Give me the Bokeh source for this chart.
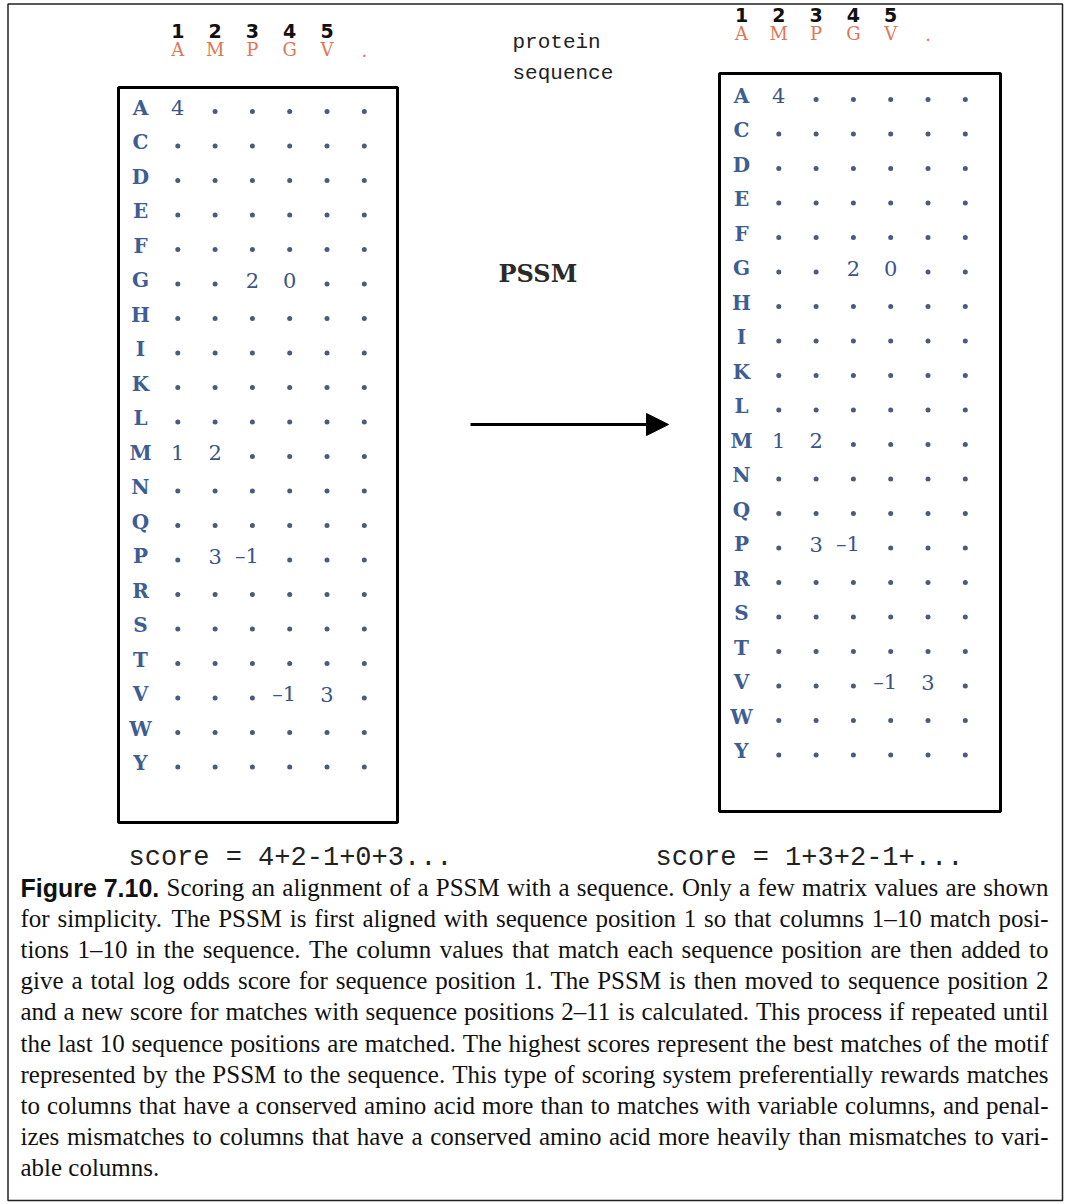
from bokeh.plotting import figure
from bokeh.models import Range1d, Arrow, NormalHead
from bokeh.core.properties import value
from bokeh.embed import file_html
from bokeh.resources import INLINE

# ---------------- data ----------------
amino_acids = ["A", "C", "D", "E", "F", "G", "H", "I", "K", "L",
               "M", "N", "Q", "P", "R", "S", "T", "V", "W", "Y"]
n_matrix_cols = 6
shown_rows = ["A", "G", "G", "M", "M", "P", "P", "V", "V"]
shown_cols = [1, 3, 4, 1, 2, 2, 3, 4, 5]
shown_vals = [4, 2, 0, 1, 2, 3, -1, -1, 3]
sequence = ["A", "M", "P", "G", "V", "."]
seq_numbers = ["1", "2", "3", "4", "5"]
score_left_terms = [4, 2, -1, 0, 3]
score_right_terms = [1, 3, 2, -1]
label_protein = ["protein", "sequence"]
label_matrix = "PSSM"
caption_head = "Figure 7.10."
caption_lines = [
    "Scoring an alignment of a PSSM with a sequence. Only a few matrix values are shown",
    "for simplicity. The PSSM is first aligned with sequence position 1 so that columns 1\u201310 match posi-",
    "tions 1\u201310 in the sequence. The column values that match each sequence position are then added to",
    "give a total log odds score for sequence position 1. The PSSM is then moved to sequence position 2",
    "and a new score for matches with sequence positions 2\u201311 is calculated. This process if repeated until",
    "the last 10 sequence positions are matched. The highest scores represent the best matches of the motif",
    "represented by the PSSM to the sequence. This type of scoring system preferentially rewards matches",
    "to columns that have a conserved amino acid more than to matches with variable columns, and penal-",
    "izes mismatches to columns that have a conserved amino acid more heavily than mismatches to vari-",
    "able columns.",
]

# ---------------- styles ----------------
W, H = 1068, 1204
ROW_COLOR = "#3d5d93"
VAL_COLOR = "#3a5585"
DOT_COLOR = "#4b5b7b"
SEQ_COLOR = "#e07656"
MONO = value("Liberation Mono")
SLAB = value("DejaVu Serif")

p = figure(width=W, height=H, output_backend="svg", toolbar_location=None,
           x_range=Range1d(0, W), y_range=Range1d(H, 0), min_border=0)
p.axis.visible = False
p.grid.visible = False
p.outline_line_color = None
p.background_fill_color = "white"
p.border_fill_color = "white"

# outer frame
p.quad(left=[7.5], right=[1062], top=[3.5], bottom=[1200],
       fill_color=None, line_color="#222222", line_width=1.5)


def fmt_score(terms, tail):
    s = str(terms[0])
    for t in terms[1:]:
        s += ("+" if t >= 0 else "-") + str(abs(t))
    return "score = " + s + tail


def panel(label_x, row_y0, shift, box, num_y, seq_y, score_text, score_x, score_y):
    dx, dy = 37.3, 34.5
    ys = [row_y0 + i * dy for i in range(len(amino_acids))]
    p.quad(left=[box[0]], right=[box[1]], top=[box[2]], bottom=[box[3]],
           fill_color=None, line_color="black", line_width=3)
    p.text(x=[label_x] * len(amino_acids), y=ys, text=amino_acids,
           text_font=SLAB, text_font_style="bold", text_font_size="20px",
           text_color=ROW_COLOR, text_align="center", text_baseline="middle")
    shown = {(r, c): v for r, c, v in zip(shown_rows, shown_cols, shown_vals)}
    dx_l, dy_l, px, py, pt, nx, ny, nt = [], [], [], [], [], [], [], []
    for i, aa in enumerate(amino_acids):
        for c in range(1, n_matrix_cols + 1):
            x = label_x + c * dx
            if (aa, c) in shown:
                v = shown[(aa, c)]
                if v < 0:
                    nx.append(x + 6.5); ny.append(ys[i]); nt.append("\u2013" + str(abs(v)))
                else:
                    px.append(x); py.append(ys[i]); pt.append(str(v))
            else:
                dx_l.append(x); dy_l.append(ys[i] + 4)
    p.scatter(x=dx_l, y=dy_l, size=5, color=DOT_COLOR, line_color=None)
    p.text(x=px, y=py, text=pt, text_font=SLAB, text_font_size="21px",
           text_color=VAL_COLOR, text_align="center", text_baseline="middle")
    p.text(x=nx, y=ny, text=nt, text_font=SLAB, text_font_size="21px",
           text_color=VAL_COLOR, text_align="right", text_baseline="middle")
    nxs = [label_x + (k + 1 - shift) * dx for k in range(len(seq_numbers))]
    p.text(x=nxs, y=[num_y] * len(nxs), text=seq_numbers, text_font=value("DejaVu Sans"),
           text_font_style="bold", text_font_size="19px", text_color="#111111",
           text_align="center", text_baseline="middle")
    sxs = [label_x + (k + 1 - shift) * dx for k in range(len(sequence))]
    p.text(x=sxs, y=[seq_y] * len(sxs), text=sequence, text_font=SLAB,
           text_font_size="18px", text_color=SEQ_COLOR,
           text_align="center", text_baseline="middle")
    p.text(x=[score_x], y=[score_y], text=[score_text], text_font=MONO,
           text_font_size="27px", text_color="#222222",
           text_align="left", text_baseline="middle")


panel(140, 107, 0, (118, 397, 87, 822), 30, 49,
      fmt_score(score_left_terms, "..."), 128, 857)
panel(741, 95, 1, (719, 1000, 73, 811), 14, 33,
      fmt_score(score_right_terms, "+..."), 655, 857)

# labels in the middle
p.text(x=[512, 512], y=[42, 73], text=label_protein, text_font=MONO,
       text_font_size="21px", text_color="#222222",
       text_align="left", text_baseline="middle")
p.text(x=[498], y=[273], text=[label_matrix], text_font=SLAB, text_font_style="bold",
       text_font_size="24px", text_color="#2a2a2a",
       text_align="left", text_baseline="middle")

# arrow
p.add_layout(Arrow(end=NormalHead(size=22, fill_color="black", line_color="black"),
                   x_start=470, y_start=424, x_end=668, y_end=424,
                   line_width=3, line_color="black"))

# ---------------- caption (justified) ----------------
TIMES = {' ': 250, '!': 333, ',': 250, '-': 333, '.': 250, ':': 278, ';': 278,
         '\u2013': 500, '0': 500, '1': 500, '2': 500, '3': 500, '4': 500, '5': 500,
         '6': 500, '7': 500, '8': 500, '9': 500,
         'A': 722, 'B': 667, 'C': 667, 'D': 722, 'E': 611, 'F': 556, 'G': 722, 'H': 722,
         'I': 333, 'J': 389, 'K': 722, 'L': 611, 'M': 889, 'N': 722, 'O': 722, 'P': 556,
         'Q': 722, 'R': 667, 'S': 556, 'T': 611, 'U': 722, 'V': 722, 'W': 944, 'X': 722,
         'Y': 722, 'Z': 611,
         'a': 444, 'b': 500, 'c': 444, 'd': 500, 'e': 444, 'f': 333, 'g': 500, 'h': 500,
         'i': 278, 'j': 278, 'k': 500, 'l': 278, 'm': 778, 'n': 500, 'o': 500, 'p': 500,
         'q': 500, 'r': 333, 's': 389, 't': 278, 'u': 500, 'v': 500, 'w': 722, 'x': 500,
         'y': 500, 'z': 444}
ARIAL_B = {'F': 611, 'i': 278, 'g': 611, 'u': 611, 'r': 389, 'e': 556, ' ': 278,
           '7': 556, '.': 278, '1': 556, '0': 556}


def w_em(s, table):
    return sum(table.get(ch, 500) for ch in s) / 1000.0


CAP_L, CAP_R = 20, 1048
CAP_Y0, CAP_DY = 887, 31.1
span = CAP_R - CAP_L
fs_list = []
for k, line in enumerate(caption_lines[:-1]):
    if k == 0:
        em = w_em(caption_head, ARIAL_B) + w_em(" " + line, TIMES)
    else:
        em = w_em(line, TIMES)
    fs_list.append(span / em)
fs = min(fs_list) * 0.99

wx, wy, wt = [], [], []
for k in range(len(caption_lines)):
    words = caption_lines[k].split(" ")
    y = CAP_Y0 + k * CAP_DY
    x = CAP_L
    words_w = [w_em(w, TIMES) * fs for w in words]
    last = k == len(caption_lines) - 1
    if k == 0:
        hw = w_em(caption_head, ARIAL_B) * fs
        gap = (span - hw - sum(words_w)) / len(words)
        p.text(x=[CAP_L], y=[y], text=[caption_head], text_font=value("Liberation Sans"),
               text_font_style="bold", text_font_size=f"{fs:.2f}px", text_color="#111111",
               text_align="left", text_baseline="middle")
        x = CAP_L + hw + gap
    else:
        gap = TIMES[' '] / 1000 * fs if last else (span - sum(words_w)) / (len(words) - 1)
    for w, ww in zip(words, words_w):
        wx.append(x); wy.append(y); wt.append(w)
        x += ww + gap

p.text(x=wx, y=wy, text=wt, text_font=value("Liberation Serif"),
       text_font_size=f"{fs:.2f}px", text_color="#111111",
       text_align="left", text_baseline="middle")

open("out.html", "w").write(file_html(p, INLINE))
